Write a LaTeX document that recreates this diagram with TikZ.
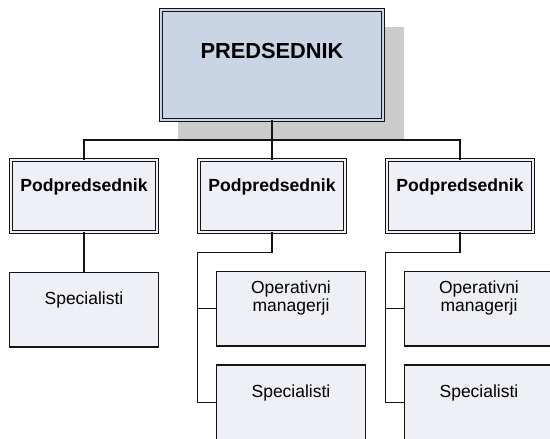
\documentclass[tikz,border=0pt]{standalone}
\usepackage{fontspec}
\setmainfont{Liberation Sans}
\usetikzlibrary{positioning,calc,backgrounds}
\definecolor{Ink}{HTML}{141414}
\definecolor{Chief}{HTML}{C9D5E5}
\definecolor{Pale}{HTML}{EEF0F6}
\definecolor{Shade}{HTML}{CCCCCC}
\tikzset{
  chief/.style={draw=Ink,double=Chief,fill=Chief,line width=.9pt,double distance=2pt,minimum width=222.2pt,minimum height=110.2pt,outer sep=0pt,inner sep=1pt,align=center,font=\fontsize{21.8}{26}\selectfont\bfseries,text height=16pt,text depth=30pt},
  deputy/.style={draw=Ink,double=Pale,fill=Pale,line width=.9pt,double distance=2pt,minimum width=146.2pt,minimum height=72.2pt,outer sep=0pt,inner sep=1pt,align=center,font=\fontsize{17.6}{21}\selectfont\bfseries,text height=13pt,text depth=21.6pt},
  unit/.style={draw=Ink,fill=Pale,line width=1.2pt,minimum width=148.9pt,minimum height=74.9pt,outer sep=0pt,inner sep=1pt,align=center,font=\fontsize{17.5}{18.3}\selectfont,text height=13pt,text depth=23.4pt},
  twoline/.style={text height=31pt,text depth=25.4pt},
  tree/.style={draw=Ink,line width=1.25pt}
}
\begin{document}
\begin{tikzpicture}[x=1pt,y=-1pt]
  \useasboundingbox (0,0) rectangle (550,439);
  \clip (0,0) rectangle (550,439);

  \node[chief] (ceo) at (272,65) {PREDSEDNIK};
  \begin{scope}[on background layer]
    \fill[white] (0,0) rectangle (550,439);
    \fill[Shade] ([shift={(17.5,17.5)}]ceo.north west) rectangle ([shift={(20.5,20.5)}]ceo.south east);
  \end{scope}

  \node[deputy,below=39.8pt of ceo] (vpM) {Podpredsednik};
  \node[deputy,left=41.8pt of vpM] (vpL) {Podpredsednik};
  \node[deputy,right=41.8pt of vpM] (vpR) {Podpredsednik};

  \node[unit,below=40pt of vpL] (spL) {Specialisti};
  \node[unit,twoline,below=39pt of vpM,xshift=19pt] (opM) {Operativni\\managerji};
  \node[unit,below=19pt of opM] (spM) {Specialisti};
  \node[unit,twoline,below=39pt of vpR,xshift=19pt] (opR) {Operativni\\managerji};
  \node[unit,below=19pt of opR] (spR) {Specialisti};

  \draw[tree] (ceo) -- (vpM);
  \draw[tree] (vpL.north) |- ($(ceo.south)!.5!(vpM.north)$) -| (vpR.north);
  \draw[tree] (vpL) -- (spL);
  \foreach \s in {M,R}{
    \draw[tree] (vp\s.south) -- ++(0,20.5) -| ([xshift=-19pt]sp\s.west) -- (sp\s.west);
    \draw[tree] ([xshift=-19pt]op\s.west) -- (op\s.west);
  }
\end{tikzpicture}
\end{document}
